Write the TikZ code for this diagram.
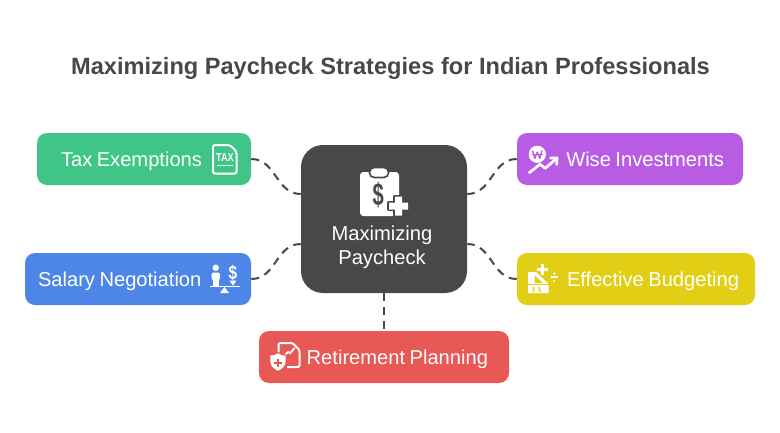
\documentclass[tikz,border=0pt]{standalone}
\usepackage{fontspec}
\setmainfont[WordSpace=0.8,BoldFeatures={WordSpace=1}]{Liberation Sans}
\definecolor{dk}{HTML}{484848}
\definecolor{cgreen}{HTML}{3FC686}
\definecolor{cblue}{HTML}{4E86E8}
\definecolor{cpurple}{HTML}{B85CE4}
\definecolor{cyellow}{HTML}{E2CE14}
\definecolor{cred}{HTML}{E85854}
\tikzset{
  box/.style={rectangle,rounded corners=7.5pt,minimum height=39pt,inner sep=0pt,text=white,text height=13pt,text depth=2.3pt,font=\fontsize{15.1pt}{18pt}\selectfont},
  link/.style={draw=dk,line width=1.5pt,dash pattern=on 6pt off 4.5pt},
  ico/.style={draw=white,line width=1.5pt,line join=round},
}
\begin{document}
\begin{tikzpicture}[x=0.75pt,y=-0.75pt]
\useasboundingbox (0,0) rectangle (780,432);
\node[text=dk,font=\bfseries\fontsize{17.7pt}{21pt}\selectfont] (title) at (390.5,68.5) {Maximizing Paycheck Strategies for Indian Professionals};
\node[rectangle,rounded corners=16.5pt,fill=dk,minimum width=124.5pt,minimum height=111pt,inner sep=0pt] (main) at (384,219) {};
\node[text=white,align=center,inner sep=0pt,font=\fontsize{15.1pt}{18pt}\selectfont] (maintext) at (382,247.5) {Maximizing\\Paycheck};
\node[box,fill=cgreen,minimum width=160.5pt,text width=124.5pt,align=flush left] (tax) at (144,159) {Tax Exemptions};
\node[box,fill=cblue,minimum width=169.5pt,text width=150pt,align=flush left] (salary) at (138,279) {Salary Negotiation};
\node[box,fill=cpurple,minimum width=169.5pt,text width=141pt,align=flush right] (wise) at (630,159) {Wise Investments};
\node[box,fill=cyellow,minimum width=178.5pt,text width=154.5pt,align=flush right] (budget) at (636,279) {Effective Budgeting};
\node[box,fill=cred,minimum width=187.5pt,text width=156pt,align=flush right] (retire) at (384,357) {Retirement Planning};
% connectors
\draw[link] (tax.east) .. controls +(25,0) and +(-25,0) .. ([yshift=18.75pt]main.west);
\draw[link] (salary.east) .. controls +(25,0) and +(-25,0) .. ([yshift=-18.75pt]main.west);
\draw[link] (wise.west) .. controls +(-25,0) and +(25,0) .. ([yshift=18.75pt]main.east);
\draw[link] (budget.west) .. controls +(-25,0) and +(25,0) .. ([yshift=-18.75pt]main.east);
\draw[link] (main.south) -- (retire.north);
% clipboard icon
\fill[white,rounded corners=2.5pt] (360,172) rectangle (399,216);
\draw[fill=white,draw=dk,line width=1.2pt,rounded corners=3.5pt] (369.5,167.5) rectangle (388.5,177.5);
\node[text=dk,inner sep=0pt,xscale=.72,yscale=1.12,font=\bfseries\fontsize{21pt}{21pt}\selectfont] (dollar) at (378.3,195.5) {\$};
\fill[white,draw=dk,line width=2.4pt,line join=round] (395,196.5) -- (402,196.5) -- (402,202.5) -- (408,202.5) -- (408,209.5) -- (402,209.5) -- (402,215.5) -- (395,215.5) -- (395,209.5) -- (389,209.5) -- (389,202.5) -- (395,202.5) -- cycle;
\fill[white] (395,196.5) rectangle (402,215.5) (389,202.5) rectangle (408,209.5);
% tax icon
\draw[ico,rounded corners=1.5pt] (213,145) -- (230,145) -- (236.5,151.5) -- (236.5,173.5) -- (213,173.5) -- cycle;
\node[text=white,inner sep=0pt,xscale=.8,font=\bfseries\fontsize{8.6pt}{9pt}\selectfont] (taxword) at (225,157.5) {TAX};
\draw[white,line width=1pt] (217,165.5) -- (233,165.5);
% salary icon
\fill[white] (215.7,267.7) circle (3.2);
\fill[white,rounded corners=1.5pt] (211.5,272.5) rectangle (220,280);
\fill[white] (213,278) rectangle (218.5,286);
\draw[white,line width=1.3pt] (210,286.5) -- (240,286.5);
\fill[white] (224.5,287) -- (220,293) -- (229,293) -- cycle;
\node[text=white,inner sep=0pt,xscale=.8,font=\bfseries\fontsize{14.5pt}{15pt}\selectfont] (salarysign) at (233,273) {\$};
\fill[white] (229.5,280.5) -- (236.5,280.5) -- (233,285.5) -- cycle;
% invest icon
\fill[white] (537.3,154.3) circle (8.6);
\draw[cpurple,line width=1pt,line join=round] (532.5,150.5) -- (534.8,158.5) -- (537.3,152) -- (539.8,158.5) -- (542,150.5);
\draw[cpurple,line width=.7pt] (531.5,154) -- (543,154);
\draw[white,line width=2pt,line cap=round,line join=round] (529.3,172.7) -- (540,164.3) -- (545.3,168.3) -- (556.5,158.5);
\draw[white,line width=2pt,line cap=round,line join=round] (550.5,158) -- (557,158) -- (556.7,164.5);
% budget icon
\fill[white] (528,272) -- (536,272) -- (548.5,284) -- (548.5,293) -- (528,293) -- cycle;
\fill[cyellow] (534.5,275.5) -- (534.5,283) -- (543,283) -- cycle;
\fill[cyellow] (528,283.5) rectangle (548.5,284.7);
\fill[cyellow] (532.5,287) rectangle (534,292) (538,287) -- (539.5,287) -- (541,292) -- (539.5,292) -- cycle;
\draw[white,line width=1.9pt] (537.2,269.3) -- (548.2,269.3) (542.7,263.8) -- (542.7,274.8);
\draw[white,line width=1.3pt] (550.7,277.3) -- (557.7,277.3);
\fill[white] (554.2,273.6) circle (1.2) (554.2,281) circle (1.2);
% retirement icon
\draw[ico,rounded corners=1pt] (278.7,354) -- (278.7,343) -- (292.5,343) -- (299.5,350) -- (299.5,367) -- (287,367);
\draw[white,line width=1.4pt,line join=round,line cap=round] (284.3,355.7) -- (288.3,351.7) -- (290,353.3) -- (294.3,348.3);
\fill[white,draw=cred,line width=.9pt,line join=round] (278,352.6) .. controls (281,354.6) and (283.5,355) .. (286.3,355) -- (286.3,362) .. controls (286.3,366.5) and (282,369.8) .. (278,371.6) .. controls (274,369.8) and (269.7,366.5) .. (269.7,362) -- (269.7,355) .. controls (272.5,355) and (275,354.6) .. (278,352.6) -- cycle;
\draw[cred,line width=1.5pt] (273.7,362.7) -- (281.7,362.7) (277.7,358.7) -- (277.7,366.7);
\end{tikzpicture}
\end{document}
